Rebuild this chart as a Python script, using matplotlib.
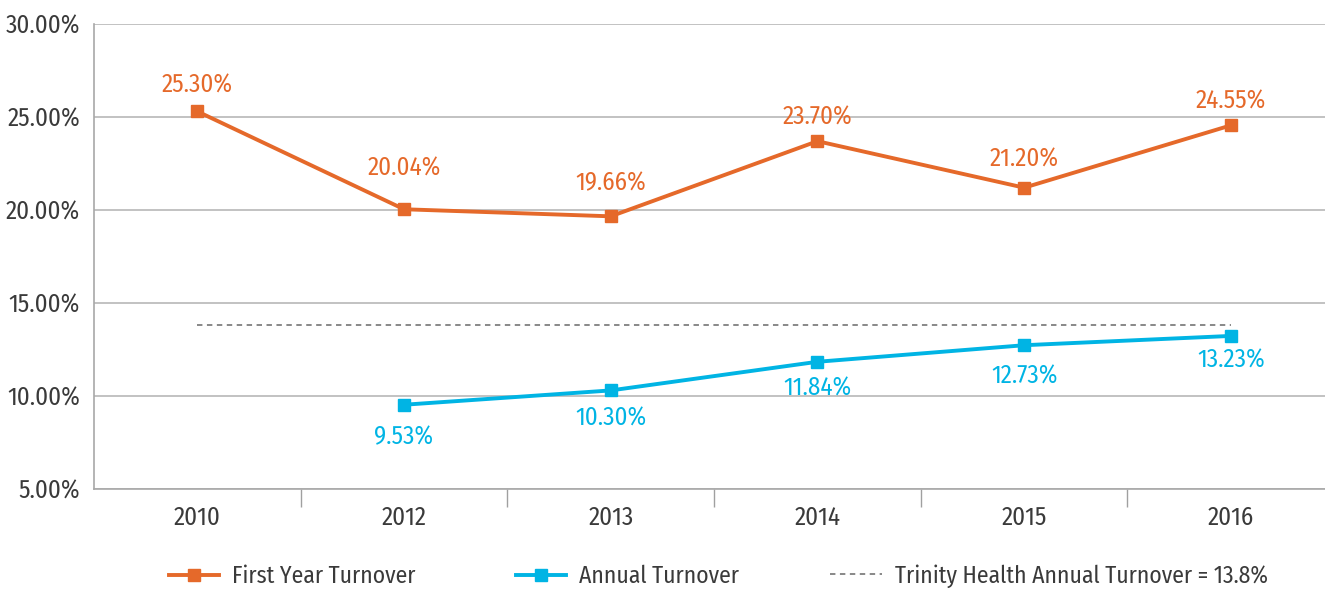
import matplotlib
matplotlib.use("Agg")
import matplotlib.pyplot as plt
from matplotlib.lines import Line2D
import numpy as np

plt.rcParams['font.family'] = ['Fira Sans Condensed', 'DejaVu Sans']

years = ["2010", "2012", "2013", "2014", "2015", "2016"]
first_year = [25.30, 20.04, 19.66, 23.70, 21.20, 24.55]
annual_years = ["2012", "2013", "2014", "2015", "2016"]
annual = [9.53, 10.30, 11.84, 12.73, 13.23]
trinity_value = 13.8
yticks = [5, 10, 15, 20, 25, 30]

# label offsets (pixels, centre of label relative to point) - layout only
first_off = [26, 41, 33, 24, 28, 24]
annual_off = [-32, -28, -27, -31, -24]

ORANGE = "#E5692A"
BLUE = "#00B4E4"
GREY_TXT = "#3a3a3a"
FS = 18
LFS = 17

W, H = 1325, 589
fig = plt.figure(figsize=(W / 100, H / 100), dpi=100)
left, right, top, bottom = 94, 1325, 24, 489
ax = fig.add_axes([left / W, 1 - bottom / H, (right - left) / W, (bottom - top) / H])

xpos = np.arange(len(years))
ax_idx = [years.index(y) for y in annual_years]

ax.plot(xpos, first_year, color=ORANGE, lw=2.8, marker='s', ms=9, zorder=3, clip_on=False)
ax.plot(ax_idx, annual, color=BLUE, lw=2.8, marker='s', ms=9, zorder=3, clip_on=False)
ax.plot([xpos[0], xpos[-1]], [trinity_value, trinity_value], color="#7f7f7f", lw=1.3,
        ls=(0, (3, 2.5)), zorder=2)

px2pt = 72 / 100
for x, v, o in zip(xpos, first_year, first_off):
    ax.annotate(f"{v:.2f}%", (x, v), xytext=(0, o * px2pt), textcoords='offset points',
                ha='center', va='center', color=ORANGE, fontsize=FS)
for x, v, o in zip(ax_idx, annual, annual_off):
    ax.annotate(f"{v:.2f}%", (x, v), xytext=(0, o * px2pt), textcoords='offset points',
                ha='center', va='center', color=BLUE, fontsize=FS)

ax.set_ylim(5, 30)
ax.set_yticks(yticks)
ax.set_yticklabels([f"{t:.2f}%" for t in yticks], fontsize=FS, color=GREY_TXT)
cat_w = 206.7
ax.set_xlim(-0.5, -0.5 + (right - left) / cat_w)
ax.set_xticks(xpos)
ax.set_xticklabels(years, fontsize=FS, color=GREY_TXT)
ax.set_xticks(np.arange(0.5, len(years) - 0.5, 1), minor=True)
ax.tick_params(axis='x', which='major', length=0, pad=12)
ax.tick_params(axis='x', which='minor', length=13, color="#a0a0a0", width=1)
ax.tick_params(axis='y', length=0, pad=10)
ax.grid(axis='y', color="#b8b8b8", lw=1.2)
ax.set_axisbelow(True)
for s in ['top', 'right']:
    ax.spines[s].set_visible(False)
for s in ['left', 'bottom']:
    ax.spines[s].set_color("#a8a8a8")
    ax.spines[s].set_linewidth(1.2)

handles = [
    Line2D([], [], color=ORANGE, lw=2.8, marker='s', ms=9),
    Line2D([], [], color=BLUE, lw=2.8, marker='s', ms=9),
    Line2D([], [], color="#7f7f7f", lw=1.3, ls=(0, (3, 2.5))),
]
labels = ["First Year Turnover", "Annual Turnover", "Trinity Health Annual Turnover = 13.8%"]
starts = [169, 516, 830]
hlen = [50, 50, 52]
for h, lab, x0, hl in zip(handles, labels, starts, hlen):
    leg = fig.legend([h], [lab], loc='center left', bbox_to_anchor=(x0 / W, 1 - 576 / H),
                     frameon=False, handlelength=hl / (LFS * 100 / 72),
                     handletextpad=0.55, borderaxespad=0, borderpad=0,
                     prop={'size': LFS})
    for t in leg.get_texts():
        t.set_color(GREY_TXT)

fig.savefig("out.png", dpi=100)
